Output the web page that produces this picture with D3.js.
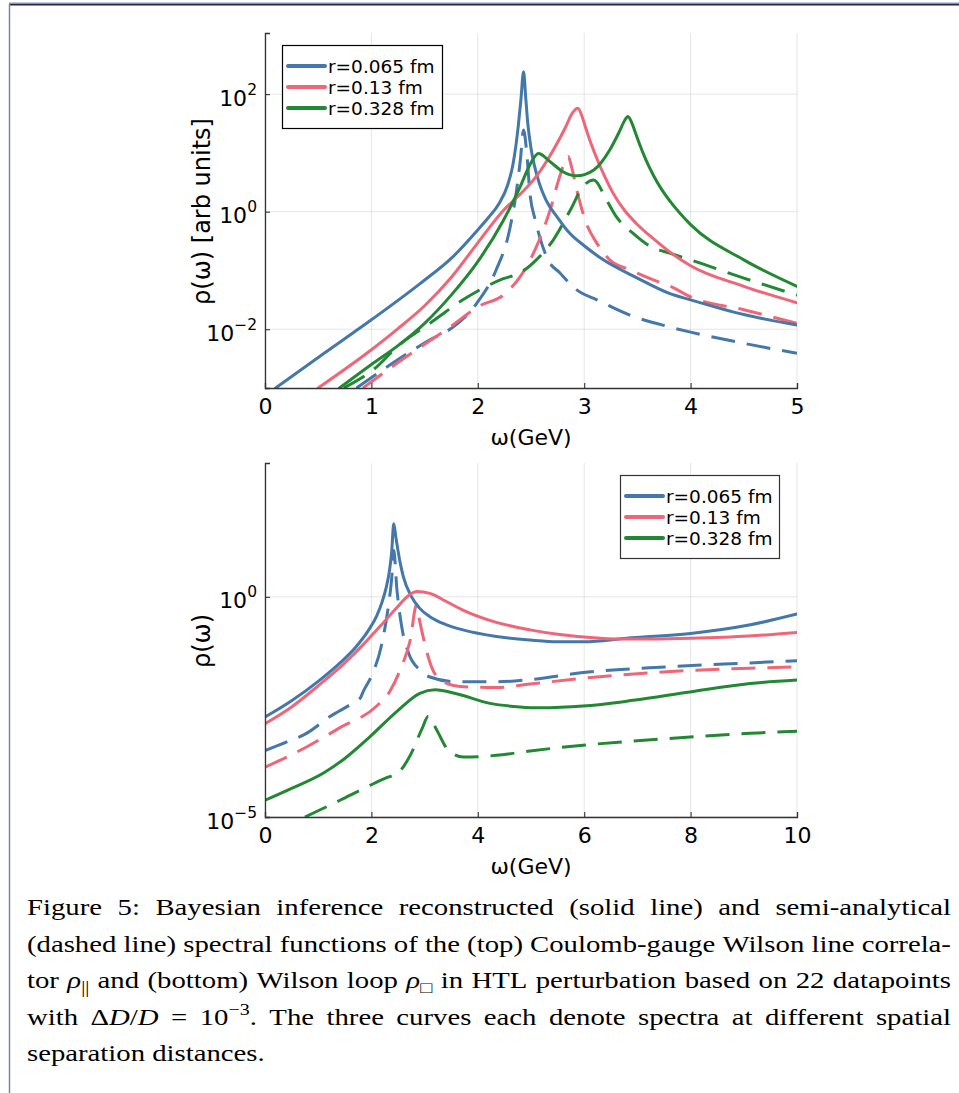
<!DOCTYPE html>
<html>
<head>
<meta charset="utf-8">
<script src="https://cdn.jsdelivr.net/npm/d3@7"></script>
<style>
  html, body { margin: 0; padding: 0; background: #fff; }
  svg { display: block; }
</style>
</head>
<body>
<svg id="fig" width="959" height="1093"></svg>
<script>
// ---------------------------------------------------------------
// Spectral functions, stored as [omega (GeV), log10 rho(omega)]
// Top panel: Coulomb-gauge Wilson line correlator rho_||
// ---------------------------------------------------------------
const parSolid065 = [[0.10,-3.0],[0.5,-2.48],[1.0,-1.84],[1.46,-1.22],[1.77,-0.76],[2.0,-0.31],[2.1,-0.1],[2.2,0.14],[2.28,0.45],[2.33,0.8],[2.36,1.15],[2.38,1.45],[2.405,1.9],[2.43,2.38],[2.45,1.95],[2.47,1.5],[2.50,1.08],[2.53,0.8],[2.58,0.47],[2.64,0.2],[2.75,-0.1],[2.86,-0.36],[3.0,-0.58],[3.18,-0.82],[3.5,-1.13],[3.8,-1.39],[4.0,-1.50],[4.5,-1.75],[5.0,-1.93]];
const parSolid013 = [[0.50,-3.0],[1.0,-2.35],[1.25,-1.99],[1.5,-1.6],[1.75,-1.12],[2.0,-0.53],[2.24,0.02],[2.4,0.3],[2.55,0.6],[2.71,1.05],[2.82,1.42],[2.89,1.68],[2.94,1.76],[2.98,1.62],[3.01,1.45],[3.06,1.18],[3.12,0.9],[3.2,0.57],[3.27,0.32],[3.38,0.02],[3.49,-0.2],[3.65,-0.46],[3.8,-0.68],[4.0,-0.92],[4.5,-1.27],[5.0,-1.55]];
const parSolid0328 = [[0.70,-3.0],[1.0,-2.6],[1.25,-2.28],[1.5,-1.9],[1.75,-1.42],[2.0,-0.85],[2.24,-0.15],[2.40,0.43],[2.49,0.8],[2.57,0.99],[2.68,0.85],[2.80,0.68],[2.93,0.61],[3.09,0.71],[3.24,1.05],[3.33,1.36],[3.38,1.55],[3.41,1.62],[3.45,1.5],[3.49,1.3],[3.52,1.15],[3.58,0.88],[3.65,0.62],[3.72,0.4],[3.81,0.17],[4.0,-0.22],[4.5,-0.82],[5.0,-1.27]];
const parDash065 = [[0.86,-3.0],[1.18,-2.6],[1.55,-2.18],[1.77,-1.96],[1.99,-1.56],[2.17,-1.0],[2.30,-0.3],[2.36,0.31],[2.40,0.88],[2.43,1.39],[2.46,1.0],[2.49,0.31],[2.54,-0.14],[2.58,-0.42],[2.66,-0.82],[2.77,-1.04],[2.93,-1.33],[3.12,-1.50],[3.43,-1.76],[3.80,-1.96],[4.0,-2.05],[4.5,-2.24],[5.0,-2.41]];
const parDash013 = [[0.92,-3.0],[1.24,-2.58],[1.74,-1.96],[2.02,-1.6],[2.24,-1.42],[2.40,-1.1],[2.55,-0.6],[2.68,0.03],[2.77,0.6],[2.85,0.94],[2.88,0.77],[2.93,0.37],[3.02,-0.2],[3.12,-0.54],[3.24,-0.82],[3.43,-0.99],[3.65,-1.16],[3.81,-1.27],[4.0,-1.45],[4.5,-1.67],[5.0,-1.90]];
const parDash0328 = [[0.74,-3.0],[1.05,-2.64],[1.24,-2.3],[1.55,-1.9],[1.86,-1.5],[2.05,-1.3],[2.24,-1.14],[2.40,-1.04],[2.55,-0.82],[2.71,-0.48],[2.87,0.03],[2.99,0.43],[3.09,0.54],[3.21,0.2],[3.30,-0.08],[3.46,-0.37],[3.62,-0.59],[3.81,-0.71],[4.0,-0.82],[4.5,-1.13],[5.0,-1.42]];

// Bottom panel: Wilson loop rho_box
const loopSolid065 = [[0,-2.73],[0.5,-2.36],[1.0,-1.92],[1.41,-1.5],[1.7,-1.15],[1.95,-0.75],[2.1,-0.43],[2.2,-0.12],[2.28,0.22],[2.34,0.6],[2.38,1.0],[2.42,1.66],[2.46,1.35],[2.5,1.05],[2.55,0.72],[2.6,0.46],[2.75,0.01],[2.9,-0.25],[3.1,-0.45],[3.4,-0.63],[3.72,-0.75],[4.35,-0.9],[4.98,-0.98],[5.5,-1.02],[6.0,-1.02],[6.8,-0.94],[8.0,-0.83],[9.1,-0.64],[10,-0.39]];
const loopSolid013 = [[0,-2.88],[0.5,-2.5],[1.0,-2.02],[1.5,-1.5],[1.85,-1.08],[2.2,-0.62],[2.48,-0.24],[2.7,0.03],[2.85,0.12],[3.1,0.08],[3.4,-0.1],[3.72,-0.30],[4.35,-0.58],[4.98,-0.75],[5.5,-0.85],[6.3,-0.94],[6.8,-0.96],[8.0,-0.94],[9.1,-0.89],[10,-0.81]];
const loopSolid0328 = [[0,-4.62],[0.5,-4.35],[1.1,-4.0],[1.5,-3.67],[1.97,-3.18],[2.48,-2.6],[2.91,-2.19],[3.2,-2.11],[3.6,-2.2],[4.23,-2.42],[4.79,-2.5],[5.17,-2.52],[5.98,-2.48],[6.92,-2.35],[7.99,-2.16],[9.12,-1.97],[10,-1.89]];
const loopDash065 = [[0,-3.49],[0.4,-3.3],[0.78,-3.1],[1.22,-2.72],[1.6,-2.45],[1.79,-2.3],[1.85,-2.14],[2.0,-1.8],[2.19,-1.1],[2.32,-0.2],[2.38,0.4],[2.42,1.05],[2.48,0.16],[2.57,-0.68],[2.70,-1.28],[2.91,-1.66],[3.1,-1.82],[3.6,-1.93],[4.35,-1.93],[4.98,-1.88],[5.98,-1.72],[7.55,-1.59],[9.12,-1.5],[10,-1.45]];
const loopDash013 = [[0,-3.87],[0.78,-3.41],[1.41,-2.97],[2.1,-2.48],[2.35,-2.14],[2.54,-1.66],[2.73,-0.98],[2.85,-0.18],[2.9,-0.5],[3.0,-1.05],[3.13,-1.59],[3.35,-1.93],[3.73,-2.04],[4.35,-2.06],[4.98,-1.98],[5.98,-1.85],[7.55,-1.7],[9.12,-1.62],[10,-1.59]];
const loopDash0328 = [[0.75,-5.0],[1.41,-4.62],[1.91,-4.32],[2.3,-4.1],[2.48,-4.02],[2.73,-3.6],[2.95,-3.0],[3.07,-2.71],[3.23,-3.03],[3.45,-3.49],[3.73,-3.64],[4.35,-3.6],[4.98,-3.5],[5.98,-3.37],[7.55,-3.22],[9.12,-3.1],[10,-3.05]];

// Labels and ticks
const seriesNames = ["r=0.065 fm", "r=0.13 fm", "r=0.328 fm"];
const seriesColors = ["#4477AA", "#EE6677", "#228833"];
const topXTicks = [0, 1, 2, 3, 4, 5];
const topYTicks = [1e-2, 1e0, 1e2];
const botXTicks = [0, 2, 4, 6, 8, 10];
const botYTicks = [1e-5, 1e0];

const captionLines = [
  "Figure 5: Bayesian inference reconstructed (solid line) and semi-analytical",
  "(dashed line) spectral functions of the (top) Coulomb-gauge Wilson line correla-",
  "tor \\i{ρ}_{||} and (bottom) Wilson loop \\i{ρ}_{□} in HTL perturbation based on 22 datapoints",
  "with Δ\\i{D}/\\i{D} = 10^{−3}. The three curves each denote spectra at different spatial",
  "separation distances."
];

// ---------------------------------------------------------------
const svg = d3.select("#fig");
svg.append("rect").attr("width", 959).attr("height", 1093).attr("fill", "#fff");

// page frame
svg.append("line").attr("x1", 9).attr("x2", 959).attr("y1", 2.5).attr("y2", 2.5)
  .attr("stroke", "#c9cad8").attr("stroke-width", 1);
svg.append("line").attr("x1", 9).attr("x2", 959).attr("y1", 4.5).attr("y2", 4.5)
  .attr("stroke", "#1d2758").attr("stroke-width", 2);
svg.append("line").attr("x1", 9.5).attr("x2", 9.5).attr("y1", 4).attr("y2", 1093)
  .attr("stroke", "#7d82ab").attr("stroke-width", 1.5);

const SANS = "'DejaVu Sans', sans-serif";
const fmtExp = d => {
  const e = Math.round(Math.log10(d));
  return e < 0 ? "\u2212" + Math.abs(e) : String(e);
};

function panel(cfg) {
  const { x, y, xTicks, yTicks, solids, dashes, yTitle, legend, clipId } = cfg;
  const [x0, x1] = x.range();
  const [y0, y1] = y.range(); // y0 bottom, y1 top
  const g = svg.append("g");

  // grid
  g.append("g").selectAll("line").data(xTicks).join("line")
    .attr("x1", d => x(d)).attr("x2", d => x(d)).attr("y1", y0).attr("y2", y1)
    .attr("stroke", "#000").attr("stroke-opacity", 0.1).attr("stroke-width", 1);
  g.append("g").selectAll("line").data(yTicks).join("line")
    .attr("x1", x0).attr("x2", x1).attr("y1", d => y(d)).attr("y2", d => y(d))
    .attr("stroke", "#000").attr("stroke-opacity", 0.1).attr("stroke-width", 1);

  // curves
  g.append("clipPath").attr("id", clipId).append("rect")
    .attr("x", x0).attr("y", y1).attr("width", x1 - x0).attr("height", y0 - y1);
  const line = d3.line()
    .x(d => x(d[0]))
    .y(d => y(Math.pow(10, d[1])))
    .curve(d3.curveMonotoneX);
  const curves = g.append("g").attr("clip-path", `url(#${clipId})`)
    .attr("fill", "none").attr("stroke-width", 3)
    .attr("stroke-linejoin", "round");
  dashes.forEach((s, i) => curves.append("path").attr("d", line(s))
    .attr("stroke", seriesColors[i]).attr("stroke-dasharray", "24,12"));
  solids.forEach((s, i) => curves.append("path").attr("d", line(s))
    .attr("stroke", seriesColors[i]).attr("stroke-linecap", "round"));

  // axes
  const xAxis = d3.axisBottom(x).tickValues(xTicks).tickSize(-5).tickPadding(10)
    .tickFormat(d3.format("d"));
  const gx = g.append("g").attr("transform", `translate(0,${y0})`).call(xAxis);
  const yAxis = d3.axisLeft(y).tickValues(yTicks).tickSize(-5).tickPadding(8)
    .tickFormat(() => "");
  const gy = g.append("g").attr("transform", `translate(${x0},0)`).call(yAxis);
  [gx, gy].forEach(a => {
    a.attr("font-family", SANS).attr("font-size", 22);
    a.select(".domain").attr("stroke", "#333").attr("stroke-width", 1.3);
    a.selectAll(".tick line").attr("stroke", "#333").attr("stroke-width", 1.1);
    a.selectAll(".tick text").attr("fill", "#000");
  });
  gy.selectAll(".tick text").each(function (d) {
    const t = d3.select(this).text(null).attr("dy", 11);
    t.append("tspan").text("10");
    t.append("tspan").attr("dy", -11).attr("font-size", 15.5).text(fmtExp(d));
  });

  // axis titles
  g.append("text").attr("x", (x0 + x1) / 2).attr("y", y0 + 57)
    .attr("text-anchor", "middle").attr("font-family", SANS).attr("font-size", 22)
    .text("ω(GeV)");
  g.append("text")
    .attr("transform", `translate(210,${(y0 + y1) / 2 + 1}) rotate(-90)`)
    .attr("text-anchor", "middle").attr("font-family", SANS).attr("font-size", yTitle.size)
    .text(yTitle.text);

  // legend
  const lg = g.append("g").attr("transform", `translate(${legend.x},${legend.y})`);
  lg.append("rect").attr("x", 0.5).attr("y", 0.5).attr("width", legend.w).attr("height", legend.h)
    .attr("fill", "#fff").attr("stroke", legend.stroke).attr("stroke-width", 1.2);
  seriesNames.forEach((name, i) => {
    const cy = 21 + i * 21;
    lg.append("line").attr("x1", 6).attr("x2", 43).attr("y1", cy).attr("y2", cy)
      .attr("stroke", seriesColors[i]).attr("stroke-width", 4).attr("stroke-linecap", "round");
    lg.append("text").attr("x", 46).attr("y", cy + 6.5)
      .attr("font-family", SANS).attr("font-size", 18.5).text(name);
  });
}

panel({
  x: d3.scaleLinear().domain([0, 5]).range([265, 797]),
  y: d3.scaleLog().domain([1e-3, Math.pow(10, 3.04)]).range([388, 33]),
  xTicks: topXTicks, yTicks: topYTicks,
  solids: [parSolid065, parSolid013, parSolid0328],
  dashes: [parDash065, parDash013, parDash0328],
  yTitle: { text: "ρ(ω) [arb units]", size: 24 },
  legend: { x: 282, y: 45, w: 160, h: 83, stroke: "#000" },
  clipId: "clipTop"
});

panel({
  x: d3.scaleLinear().domain([0, 10]).range([265, 797]),
  y: d3.scaleLog().domain([1e-5, Math.pow(10, 3.04)]).range([817, 463]),
  xTicks: botXTicks, yTicks: botYTicks,
  solids: [loopSolid065, loopSolid013, loopSolid0328],
  dashes: [loopDash065, loopDash013, loopDash0328],
  yTitle: { text: "ρ(ω)", size: 24 },
  legend: { x: 620, y: 475, w: 159, h: 83, stroke: "#333" },
  clipId: "clipBot"
});

// ---------------------------------------------------------------
// Caption: justified serif text with inline math; glyphs are
// widened slightly so the justified lines keep normal word gaps
// ---------------------------------------------------------------
const SERIF = "'Liberation Serif', 'Times New Roman', serif";
const capX = 27, capW = 924, capFont = 23, capBase = 915, capLead = 36.6;

function parseWord(w) {
  const segs = [];
  const re = /\\i\{([^}]*)\}|_\{([^}]*)\}|\^\{([^}]*)\}|([^\\_^]+)/g;
  let m;
  while ((m = re.exec(w))) {
    if (m[1] !== undefined) segs.push({ t: m[1], it: true });
    else if (m[2] !== undefined) segs.push({ t: m[2], shift: 5 });
    else if (m[3] !== undefined) segs.push({ t: m[3], shift: -10 });
    else segs.push({ t: m[4] });
  }
  return segs;
}

const capG = svg.append("g").attr("font-family", SERIF).attr("font-size", capFont).attr("fill", "#000");
const capRows = captionLines.map(lineStr =>
  lineStr.split(" ").map(parseWord).map(segs => {
    const t = capG.append("text").attr("x", 0).attr("y", 0);
    let off = 0;
    segs.forEach(s => {
      const target = s.shift || 0;
      const sp = t.append("tspan").text(s.t).attr("dy", target - off);
      if (s.shift) sp.attr("font-size", 16);
      if (s.it) sp.attr("font-style", "italic");
      off = target;
    });
    return { t, w: t.node().getComputedTextLength() };
  })
);

// common horizontal glyph scale set by the tightest justified line
const minGap = 6.5;
const sx = Math.max(1, Math.min(1.25, d3.min(capRows.slice(0, -1), nodes =>
  (capW - (nodes.length - 1) * minGap) / d3.sum(nodes, n => n.w))));
capRows.forEach((nodes, li) => {
  const last = li === capRows.length - 1;
  const yb = capBase + li * capLead;
  const widths = nodes.map(n => n.w * sx);
  const gap = last ? 7 : (capW - d3.sum(widths)) / (nodes.length - 1);
  let cx = capX;
  nodes.forEach((n, i) => {
    n.t.attr("transform", `translate(${cx},${yb}) scale(${sx},1)`);
    cx += widths[i] + gap;
  });
});
</script>
</body>
</html>
